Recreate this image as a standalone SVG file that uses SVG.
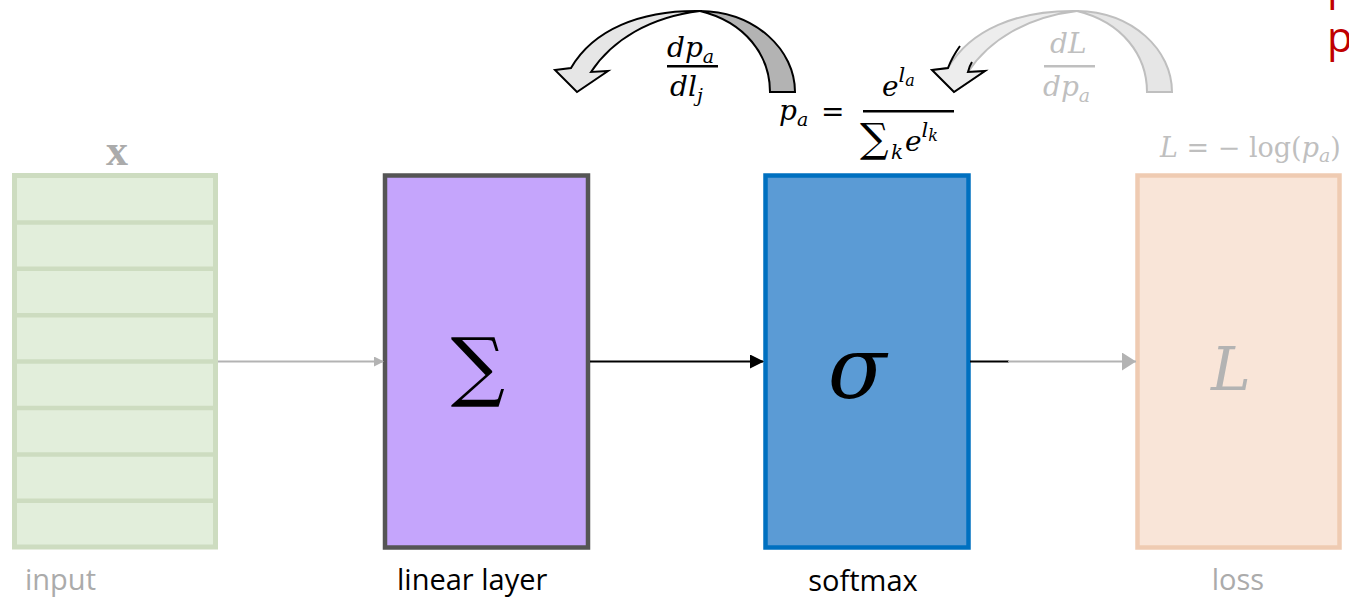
<svg xmlns="http://www.w3.org/2000/svg" width="1349" height="597" viewBox="0 0 1349 597">
<style>
.lbl{font-family:"Open Sans","Noto Sans",sans-serif;font-size:29px}
.m{font-family:"DejaVu Serif","Liberation Serif",serif;font-style:italic}
.u{font-family:"DejaVu Serif","Liberation Serif",serif;font-style:normal}
.conn{fill:none;stroke-width:2.2}
</style>
<defs>
<marker id="ag" markerWidth="10" markerHeight="10" refX="9" refY="5" orient="auto" markerUnits="userSpaceOnUse"><path d="M0,0 L10,5 L0,10 Z" fill="#b3b3b3"/></marker>
<marker id="ab" markerWidth="14" markerHeight="14" refX="13" refY="7" orient="auto" markerUnits="userSpaceOnUse"><path d="M0,0 L14,7 L0,14 Z" fill="#000"/></marker>
<marker id="ag2" markerWidth="14" markerHeight="18" refX="14" refY="9" orient="auto" markerUnits="userSpaceOnUse"><path d="M0,0 L14,9 L0,18 Z" fill="#b3b3b3"/></marker>
</defs>
<rect width="1349" height="597" fill="#fff"/>

<g id="input">
<rect x="14.5" y="175.5" width="201" height="371.5" fill="#e2eedb" stroke="#cddcc0" stroke-width="5"/>
<g stroke="#cddcc0" stroke-width="4.5">
<line x1="14" y1="222.4" x2="216" y2="222.4"/>
<line x1="14" y1="268.8" x2="216" y2="268.8"/>
<line x1="14" y1="315.2" x2="216" y2="315.2"/>
<line x1="14" y1="361.6" x2="216" y2="361.6"/>
<line x1="14" y1="408" x2="216" y2="408"/>
<line x1="14" y1="454.4" x2="216" y2="454.4"/>
<line x1="14" y1="500.8" x2="216" y2="500.8"/>
</g>
<text x="117" y="165" text-anchor="middle" font-family="Liberation Serif,serif" font-weight="bold" font-size="44" fill="#ababab">x</text>
<text class="lbl" x="25" y="590" fill="#ababab">input</text>
</g>

<g id="linear">
<rect x="385" y="175.5" width="203" height="372" fill="#c5a5fc" stroke="#555555" stroke-width="4.5"/>
<text x="478" y="392" text-anchor="middle" font-family="DejaVu Serif,serif" font-size="76" fill="#000">∑</text>
<text class="lbl" x="397" y="590" fill="#000">linear layer</text>
</g>

<g id="softmax">
<rect x="765.5" y="175.5" width="203" height="372" fill="#5b9bd5" stroke="#0070c0" stroke-width="4.5"/>
<text class="m" x="857" y="398" text-anchor="middle" font-size="86" fill="#000">σ</text>
<text class="lbl" x="863" y="591" text-anchor="middle" fill="#000">softmax</text>
</g>

<g id="loss">
<rect x="1137.5" y="175.5" width="202" height="372" fill="#f9e5d8" stroke="#efcbb2" stroke-width="4.5"/>
<text class="m" x="1231" y="390" text-anchor="middle" font-size="60" fill="#b3b3b3">L</text>
<text class="lbl" x="1238" y="590" text-anchor="middle" fill="#ababab">loss</text>
</g>

<g id="connectors">
<line class="conn" x1="218" y1="361.5" x2="383" y2="361.5" stroke="#b3b3b3" marker-end="url(#ag)"/>
<line class="conn" x1="590" y1="361.5" x2="763" y2="361.5" stroke="#000" marker-end="url(#ab)"/>
<line class="conn" x1="970" y1="361.5" x2="1009" y2="361.5" stroke="#000"/>
<line class="conn" x1="1008" y1="361.5" x2="1136" y2="361.5" stroke="#b3b3b3" marker-end="url(#ag2)"/>
</g>

<g id="arrow-left" stroke="#000" stroke-width="2" stroke-linejoin="miter">
<path d="M555,70 L571,68 C593,30 640,10 700,11 C650,17 612,40 591,72 L608,71 L577,92 Z" fill="#e6e6e6"/>
<path d="M700,11 C756,12 795,50 795,92 L770,92 C770,55 745,22 700,11 Z" fill="#b3b3b3"/>
</g>

<g id="arrow-right">
<g transform="translate(377,0)" stroke="#bfbfbf" stroke-width="2">
<path d="M555,70 L571,68 C593,30 640,10 700,11 C650,17 612,40 591,72 L608,71 L577,92 Z" fill="#ededed"/>
<path d="M700,11 C756,12 795,50 795,92 L770,92 C770,55 745,22 700,11 Z" fill="#e6e6e6"/>
<path d="M583,46 C578,53 574,60 571,68 L555,70 L577,92 L608,71 L591,72 C592,68 593,65 595,62" fill="none" stroke="#000"/>
</g>
</g>

<g id="formula-dpdl" fill="#000">
<text class="m" x="667" y="57" font-size="28">dp<tspan font-size="19" dy="6">a</tspan></text>
<rect x="667" y="65" width="51" height="2.5"/>
<text class="m" x="670" y="96" font-size="28">dl<tspan font-size="19" dy="6">j</tspan></text>
</g>

<g id="formula-softmax" fill="#000">
<text class="m" x="779" y="120" font-size="28">p<tspan font-size="19" dy="6">a</tspan></text>
<text class="u" x="821" y="121" font-size="28">=</text>
<rect x="863" y="110" width="91" height="2.5"/>
<text class="m" x="882" y="96" font-size="28">e<tspan font-size="21" dy="-14">l</tspan><tspan font-size="16" dy="4">a</tspan></text>
<text class="u" x="860" y="152" font-size="40">∑</text>
<text class="m" x="891" y="159" font-size="20">k</text>
<text class="m" x="905" y="151" font-size="28">e<tspan font-size="21" dy="-14">l</tspan><tspan font-size="16" dy="4">k</tspan></text>
</g>

<g id="formula-dLdp" fill="#bfbfbf">
<text class="m" x="1050" y="53" font-size="28">dL</text>
<rect x="1044" y="65" width="51" height="2.5"/>
<text class="m" x="1043" y="96" font-size="28">dp<tspan font-size="19" dy="6">a</tspan></text>
</g>

<g id="formula-L" fill="#bfbfbf">
<text x="1160" y="157" font-size="27"><tspan class="m">L</tspan><tspan class="u"> = − log(</tspan><tspan class="m">p</tspan><tspan class="m" font-size="19" dy="5">a</tspan><tspan class="u" dy="-5">)</tspan></text>
</g>

<g id="red-text" fill="#c00000" font-family="Open Sans,Noto Sans,sans-serif" font-size="42">
<text x="1327" y="0">p</text>
<text x="1327" y="52">p</text>
</g>
</svg>
